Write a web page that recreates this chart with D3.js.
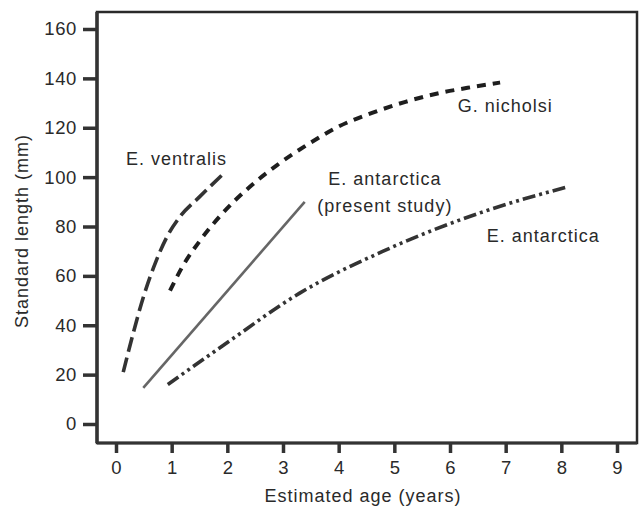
<!DOCTYPE html>
<html><head><meta charset="utf-8">
<script src="https://cdn.jsdelivr.net/npm/d3@7"></script>
<style>
html,body{margin:0;padding:0;background:#fff;}
svg{display:block;font-family:"Liberation Sans",Arial,Helvetica,sans-serif;}
</style></head>
<body>
<svg id="chart" width="642" height="507"></svg>
<script>
// ---- data ----
const xTicks = [0,1,2,3,4,5,6,7,8,9];
const yTicks = [0,20,40,60,80,100,120,140,160];
const xTitle = "Estimated age (years)";
const yTitle = "Standard length (mm)";

const ventralisX = [0.13,0.3,0.5,0.72,0.92,1.15,1.5,1.96];
const ventralisY = [21,36,52,66,76,84,92,102];

const nicholsiX = [0.97,1.2,1.5,1.9,2.4,2.9,3.5,4.0,4.6,5.2,5.8,6.4,6.9];
const nicholsiY = [54,64,74,85,96,105,114,120.5,126,130.5,134,136.5,138.3];

const presentX = [0.49,3.39];
const presentY = [14.6,90];

const antarcticaX = [0.93,2.0,3.3,4.8,6.6,8.1];
const antarcticaY = [16,33,53,70,86,96];

const labelTexts = ["E. ventralis","G. nicholsi","E. antarctica","(present study)","E. antarctica"];

// ---- drawing ----
const svg = d3.select("#chart");
const x = d3.scaleLinear().domain([0,9]).range([116,617]);
const y = d3.scaleLinear().domain([0,160]).range([424,29]);
const frame = {l:97, r:637, t:12, b:443};
const ink = "#2a2a2a";

const zip = (xs,ys)=>xs.map((v,i)=>[v,ys[i]]);
const line = d3.line().x(d=>x(d[0])).y(d=>y(d[1])).curve(d3.curveMonotoneX);

// frame
svg.append("rect").attr("x",frame.l).attr("y",frame.t)
  .attr("width",frame.r-frame.l).attr("height",frame.b-frame.t)
  .attr("fill","none").attr("stroke",ink).attr("stroke-width",2.5);
svg.append("line").attr("x1",frame.l).attr("x2",frame.l).attr("y1",frame.t).attr("y2",frame.b)
  .attr("stroke","#333").attr("stroke-width",3.5);
svg.append("line").attr("x1",frame.l).attr("x2",frame.r).attr("y1",frame.b).attr("y2",frame.b)
  .attr("stroke","#333").attr("stroke-width",3);

// axes via d3 axis generators
const yAxis = d3.axisLeft(y).tickValues(yTicks).tickSize(14).tickPadding(6).tickSizeOuter(0);
const gy = svg.append("g").attr("transform",`translate(${frame.l},0)`).call(yAxis);
gy.select(".domain").remove();
gy.selectAll(".tick line").attr("stroke","#333").attr("stroke-width",3.5);
gy.selectAll(".tick text").attr("font-size",18.5).attr("fill",ink).attr("letter-spacing","0.6px")
  .attr("font-family","Liberation Sans, Arial, sans-serif");

const xAxis = d3.axisBottom(x).tickValues(xTicks).tickSize(10).tickPadding(8).tickSizeOuter(0);
const gx = svg.append("g").attr("transform",`translate(0,${frame.b})`).call(xAxis);
gx.select(".domain").remove();
gx.selectAll(".tick line").attr("stroke","#333").attr("stroke-width",3.5);
gx.selectAll(".tick text").attr("font-size",18.5).attr("fill",ink)
  .attr("font-family","Liberation Sans, Arial, sans-serif");

// titles
svg.append("text").attr("x",363).attr("y",502)
  .attr("text-anchor","middle").attr("font-size",18).attr("letter-spacing","1px")
  .attr("fill",ink).text(xTitle);
svg.append("text").attr("transform","translate(28,231) rotate(-90)")
  .attr("text-anchor","middle").attr("font-size",18).attr("letter-spacing","1px")
  .attr("fill",ink).text(yTitle);

// series
svg.append("path").datum(zip(ventralisX,ventralisY)).attr("d",line)
  .attr("fill","none").attr("stroke","#333").attr("stroke-width",3.6)
  .attr("stroke-dasharray","15,6");
svg.append("path").datum(zip(nicholsiX,nicholsiY)).attr("d",line)
  .attr("fill","none").attr("stroke","#1e1e1e").attr("stroke-width",4)
  .attr("stroke-dasharray","9,7");
svg.append("path").datum(zip(presentX,presentY)).attr("d",line)
  .attr("fill","none").attr("stroke","#666").attr("stroke-width",2.6);
svg.append("path").datum(zip(antarcticaX,antarcticaY)).attr("d",line)
  .attr("fill","none").attr("stroke","#333").attr("stroke-width",3.6)
  .attr("stroke-dasharray","13,4,3,4,3,4");

// labels (anchored in data coordinates)
const lab = (t,dx,dy,anchor)=>svg.append("text").attr("x",x(dx)).attr("y",y(dy))
  .attr("text-anchor",anchor).attr("font-size",18).attr("letter-spacing","1px")
  .attr("fill",ink).text(t);
lab(labelTexts[0],0.18,104.9,"start");
lab(labelTexts[1],6.14,126.4,"start");
lab(labelTexts[2],4.83,96.8,"middle");
lab(labelTexts[3],4.83,85.9,"middle");
lab(labelTexts[4],6.66,73.7,"start");
</script>
</body></html>
